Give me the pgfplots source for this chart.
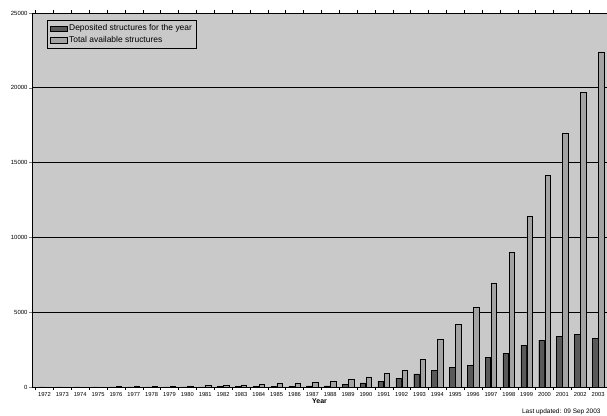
\documentclass[border=0pt]{standalone}
\usepackage{pgfplots}
\pgfplotsset{compat=1.18}
\usepackage{pgfplotstable}
\usepackage{fontspec}
\setmainfont{Liberation Sans}
\pgfplotstableread{
idx year dep tot
0 1972 1 7
1 1973 2 9
2 1974 3 12
3 1975 1 13
4 1976 10 23
5 1977 13 36
6 1978 10 46
7 1979 14 60
8 1980 9 69
9 1981 16 85
10 1982 25 110
11 1983 40 150
12 1984 40 190
13 1985 30 220
14 1986 40 260
15 1987 70 330
16 1988 70 400
17 1989 200 530
18 1990 280 680
19 1991 400 930
20 1992 600 1100
21 1993 870 1850
22 1994 1100 3200
23 1995 1330 4200
24 1996 1470 5300
25 1997 2000 6930
26 1998 2250 9000
27 1999 2800 11400
28 2000 3130 14130
29 2001 3400 16930
30 2002 3530 19670
31 2003 3270 22400
}\pdbdata
\begin{document}
\begin{tikzpicture}
\begin{axis}[
  at={(0,0)}, anchor=south west,
  scale only axis,
  width=575bp, height=374bp,
  ybar=0.6bp, bar width=5.5bp,
  xmin=-0.7, xmax=31.5,
  ymin=0, ymax=25000,
  xtick=data,
  xticklabels={1972,1973,1974,1975,1976,1977,1978,1979,1980,1981,1982,1983,1984,1985,1986,1987,1988,1989,1990,1991,1992,1993,1994,1995,1996,1997,1998,1999,2000,2001,2002,2003},
  ytick={0,5000,10000,15000,20000,25000},
  scaled y ticks=false,
  yticklabel style={/pgf/number format/1000 sep={}, /pgf/number format/fixed, font=\fontsize{6}{7}\selectfont, xshift=1.5bp},
  xticklabel style={font=\fontsize{5.8}{6}\selectfont, yshift=1bp},
  /pgf/number format/assume math mode=true,
  major x tick style={draw=none},
  minor xtick={-0.5,0.5,...,31.5},
  minor x tick style={black},
  minor tick length=2.5bp,
  major tick length=2.5bp,
  tick align=outside,
  ymajorgrids,
  major grid style={black, line width=0.7pt},
  axis line style={black},
  axis background/.style={fill=gray!42},
  xlabel={\bfseries Year},
  xlabel style={font=\fontsize{7}{8}\selectfont, yshift=4bp},
  legend style={at={(0.026,0.981)}, anchor=north west, draw=black, fill=gray!42,
    font=\fontsize{8.5}{10}\selectfont, row sep=0pt, inner sep=2.5pt},
  legend cell align=left,
  area legend,
]
\addplot[fill=black!65, draw=black, line width=0.4pt] table[x=idx, y=dep] {\pdbdata};
\addlegendentry{Deposited structures for the year}
\addplot[fill=gray!72, draw=black, line width=0.5pt] table[x=idx, y=tot] {\pdbdata};
\addlegendentry{Total available structures}
\end{axis}
\node[anchor=east, font=\fontsize{6.5}{7}\selectfont] at (572bp,-25bp) {Last updated: 09 Sep 2003};
\pgfresetboundingbox
\path (-32bp,-29bp) rectangle (575bp,387bp);
\end{tikzpicture}
\end{document}
